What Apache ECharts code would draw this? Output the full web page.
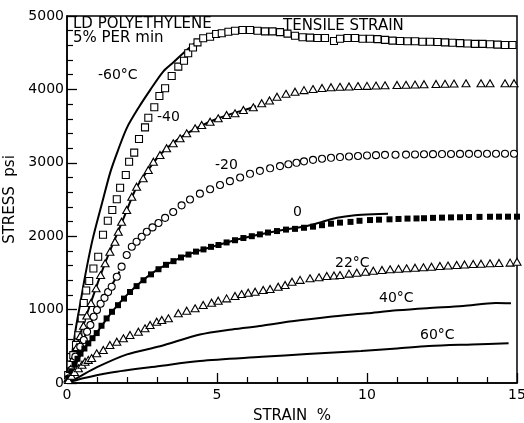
<!DOCTYPE html>
<html>
<head>
<meta charset="utf-8">
<script src="https://cdn.jsdelivr.net/npm/echarts@6/dist/echarts.min.js"></script>
<style>
  html, body { margin: 0; padding: 0; background: #fff; }
  #chart { width: 524px; height: 423px; }
</style>
</head>
<body>
<div id="chart"></div>
<script>
// Stress (psi) against strain (%) for LD polyethylene at several temperatures.
const xTicks = [0, 5, 10, 15];
const yTicks = [0, 1000, 2000, 3000, 4000, 5000];

// -60 °C: solid curve and open squares
const m60Line = [[0,0],[0.1,230],[0.2,480],[0.3,760],[0.45,1100],[0.6,1450],[0.85,1950],[1.2,2500],[1.45,2880],[1.7,3170],[2.0,3480],[2.4,3760],[2.77,3990],[3.2,4240],[3.55,4370],[4.0,4540],[4.45,4690],[4.9,4770],[5.3,4800]];
const m60Pts = [[0.04,110],[0.12,250],[0.21,380],[0.3,520],[0.38,650],[0.49,880],[0.56,1090],[0.64,1260],[0.74,1390],[0.88,1560],[1.04,1720],[1.2,2020],[1.36,2211],[1.51,2357],[1.66,2503],[1.77,2661],[1.96,2834],[2.07,3015],[2.24,3138],[2.4,3324],[2.6,3483],[2.71,3614],[2.91,3756],[3.08,3910],[3.27,4015],[3.49,4183],[3.71,4310],[3.9,4391],[4.04,4492],[4.2,4570],[4.35,4640],[4.54,4696],[4.77,4718],[4.97,4755],[5.16,4764],[5.38,4786],[5.6,4800],[5.85,4810],[6.1,4810],[6.35,4800],[6.6,4790],[6.85,4790],[7.1,4780],[7.35,4760],[7.6,4730],[7.85,4710],[8.1,4705],[8.35,4700],[8.6,4700],[8.9,4660],[9.1,4690],[9.35,4700],[9.6,4700],[9.85,4690],[10.1,4690],[10.35,4685],[10.6,4675],[10.85,4665],[11.1,4660],[11.35,4655],[11.6,4655],[11.85,4650],[12.1,4650],[12.35,4645],[12.6,4640],[12.85,4635],[13.1,4630],[13.35,4625],[13.6,4620],[13.85,4620],[14.1,4615],[14.35,4610],[14.6,4605],[14.85,4605]];

// -40 °C: solid curve and open triangles
const m40Line = [[0,0],[0.2,320],[0.5,740],[0.8,1100],[1.1,1450],[1.4,1770],[1.7,2060],[2.0,2360],[2.3,2650],[2.7,2900],[3.1,3110],[3.5,3260],[4.0,3400],[4.5,3510],[5.0,3600],[5.5,3670],[6.0,3730],[6.3,3770]];
const m40Pts = [[0.03,60],[0.12,190],[0.22,340],[0.33,490],[0.44,640],[0.55,780],[0.66,920],[0.8,1090],[0.97,1290],[1.12,1470],[1.27,1631],[1.43,1789],[1.6,1925],[1.71,2061],[1.82,2197],[1.99,2357],[2.16,2538],[2.32,2675],[2.54,2789],[2.71,2902],[2.88,3015],[3.1,3106],[3.32,3198],[3.54,3266],[3.77,3334],[3.99,3402],[4.27,3470],[4.49,3515],[4.77,3560],[5.04,3606],[5.32,3651],[5.6,3674],[5.88,3719],[6.21,3756],[6.49,3811],[6.75,3850],[7.0,3900],[7.3,3940],[7.6,3969],[7.9,3990],[8.2,4005],[8.5,4020],[8.8,4029],[9.1,4035],[9.4,4040],[9.7,4045],[10.0,4048],[10.3,4052],[10.6,4056],[11.0,4060],[11.3,4063],[11.6,4066],[11.9,4070],[12.3,4074],[12.6,4076],[12.9,4080],[13.3,4083],[13.8,4083],[14.1,4083],[14.6,4083],[14.9,4085]];

// -20 °C: short solid start and open circles
const m20Line = [[0,0],[0.3,370],[0.6,640],[0.9,910],[1.2,1150],[1.5,1340],[1.75,1520]];
const m20Pts = [[0.05,60],[0.15,180],[0.28,359],[0.44,494],[0.56,586],[0.67,699],[0.78,790],[0.89,903],[1.0,995],[1.12,1080],[1.25,1160],[1.37,1240],[1.49,1312],[1.66,1448],[1.82,1585],[1.99,1744],[2.16,1857],[2.32,1925],[2.49,1993],[2.66,2061],[2.85,2120],[3.05,2180],[3.27,2250],[3.54,2330],[3.82,2420],[4.1,2500],[4.43,2580],[4.77,2640],[5.1,2698],[5.43,2750],[5.77,2800],[6.1,2850],[6.43,2890],[6.77,2925],[7.1,2955],[7.38,2980],[7.65,3000],[7.9,3020],[8.2,3040],[8.5,3055],[8.8,3068],[9.1,3078],[9.4,3086],[9.7,3093],[10.0,3100],[10.3,3104],[10.6,3108],[10.95,3110],[11.3,3112],[11.6,3114],[11.9,3116],[12.2,3118],[12.5,3119],[12.8,3120],[13.1,3121],[13.4,3122],[13.7,3122],[14.0,3123],[14.3,3123],[14.6,3124],[14.9,3124]];

// 0 °C: solid curve and filled squares
const zeroLine = [[0,0],[0.5,420],[1.0,690],[1.5,970],[2.0,1200],[2.5,1390],[3.0,1540],[3.5,1650],[4.0,1745],[4.5,1815],[5.0,1875],[5.5,1935],[6.0,1985],[6.5,2030],[7.0,2070],[7.5,2105],[8.0,2140],[8.5,2195],[9.0,2250],[9.6,2285],[10.2,2300],[10.7,2305]];
const zeroPts = [[0.05,60],[0.15,160],[0.25,250],[0.35,330],[0.45,400],[0.58,470],[0.71,540],[0.85,610],[0.99,680],[1.15,780],[1.32,880],[1.5,970],[1.7,1060],[1.9,1150],[2.1,1240],[2.32,1320],[2.55,1400],[2.8,1480],[3.05,1550],[3.3,1610],[3.55,1660],[3.8,1710],[4.05,1750],[4.3,1790],[4.55,1820],[4.8,1855],[5.05,1880],[5.32,1915],[5.6,1945],[5.88,1975],[6.16,2000],[6.43,2025],[6.7,2050],[7.0,2070],[7.3,2090],[7.6,2100],[7.9,2115],[8.2,2130],[8.5,2150],[8.8,2170],[9.1,2185],[9.45,2195],[9.75,2210],[10.1,2220],[10.4,2225],[10.75,2230],[11.05,2235],[11.35,2240],[11.65,2242],[11.9,2245],[12.2,2250],[12.5,2253],[12.8,2256],[13.1,2258],[13.4,2261],[13.75,2263],[14.1,2265],[14.4,2266],[14.7,2266],[15.0,2266]];

// 22 °C: open triangles
const p22Pts = [[0.05,40],[0.15,100],[0.25,150],[0.38,200],[0.5,250],[0.6,290],[0.71,315],[0.82,340],[0.99,404],[1.21,450],[1.43,518],[1.66,563],[1.88,609],[2.1,654],[2.38,699],[2.6,745],[2.77,790],[2.99,835],[3.16,858],[3.38,881],[3.71,950],[3.99,985],[4.27,1018],[4.54,1063],[4.82,1094],[5.04,1121],[5.32,1153],[5.6,1185],[5.82,1212],[6.04,1230],[6.27,1244],[6.54,1267],[6.77,1281],[7.04,1312],[7.27,1335],[7.5,1380],[7.77,1405],[8.1,1426],[8.4,1440],[8.66,1458],[8.9,1465],[9.1,1471],[9.4,1490],[9.66,1503],[9.95,1515],[10.21,1530],[10.5,1540],[10.77,1549],[11.05,1556],[11.32,1563],[11.6,1570],[11.88,1576],[12.15,1585],[12.43,1594],[12.7,1600],[12.99,1608],[13.25,1615],[13.54,1621],[13.8,1626],[14.1,1631],[14.4,1636],[14.77,1640],[15.0,1653]];

// 40 °C and 60 °C: solid curves only
const p40Line = [[0,0],[0.3,60],[1.0,215],[2.0,390],[3.1,500],[4.43,660],[5.5,730],[6.5,780],[7.5,840],[8.7,900],[10.0,950],[11.0,990],[12.0,1020],[13.2,1050],[14.3,1090],[14.8,1085]];
const p60Line = [[0,0],[0.5,60],[1.43,140],[3.1,232],[4.43,300],[6.5,356],[8.0,395],[9.8,436],[11.0,470],[12.06,504],[13.5,525],[14.72,541]];

const FONT = 'DejaVu Sans';
const INK = '#000';

function curve(data) {
  return {
    type: 'line', data: data, showSymbol: false, smooth: 0.3,
    lineStyle: { color: INK, width: 2 }, z: 2, silent: true
  };
}
function marks(data, symbol, size, filled) {
  return {
    type: 'scatter', data: data, symbol: symbol, symbolSize: size,
    itemStyle: { color: filled ? INK : '#fff', borderColor: INK, borderWidth: filled ? 0 : 1.1, opacity: 1 },
    z: 3, silent: true
  };
}
function note(text, left, top, size) {
  return { type: 'text', left: left, top: top, z: 10,
    style: { text: text, font: (size || 14) + 'px "' + FONT + '"', fill: INK } };
}

const chart = echarts.init(document.getElementById('chart'), null, { renderer: 'canvas' });
chart.setOption({
  animation: false,
  backgroundColor: '#fff',
  grid: { left: 67, right: 7, top: 16, bottom: 40, containLabel: false, outerBoundsMode: 'none',
    show: true, borderColor: INK, borderWidth: 1.5, backgroundColor: 'transparent' },
  xAxis: {
    type: 'value', min: 0, max: 15, interval: 5,
    axisLine: { show: true, lineStyle: { color: INK, width: 1.5 } },
    axisTick: { show: true, inside: true, length: 10, lineStyle: { color: INK, width: 1.3 } },
    minorTick: { show: true, splitNumber: 5, length: 6, lineStyle: { color: INK, width: 1.2 } },
    splitLine: { show: false },
    axisLabel: { color: INK, fontFamily: FONT, fontSize: 14, margin: 5,
      formatter: v => xTicks.includes(v) ? String(v) : '' },
    name: 'STRAIN  %', nameLocation: 'middle', nameGap: 26,
    nameTextStyle: { color: INK, fontFamily: FONT, fontSize: 15 }
  },
  yAxis: {
    type: 'value', min: 0, max: 5000, interval: 1000,
    axisLine: { show: true, lineStyle: { color: INK, width: 1.5 } },
    axisTick: { show: true, inside: true, length: 10, lineStyle: { color: INK, width: 1.3 } },
    minorTick: { show: true, splitNumber: 5, length: 6, lineStyle: { color: INK, width: 1.2 } },
    splitLine: { show: false },
    axisLabel: { color: INK, fontFamily: FONT, fontSize: 14, margin: 3,
      formatter: v => yTicks.includes(v) ? String(v) : '' },
    name: 'STRESS  psi', nameLocation: 'middle', nameGap: 46,
    nameTextStyle: { color: INK, fontFamily: FONT, fontSize: 15 }
  },
  graphic: [
    note('LD POLYETHYLENE', 73, 17, 15),
    note('5% PER min', 73, 31, 15),
    note('TENSILE STRAIN', 283, 19, 15),
    note('-60°C', 98, 68, 14),
    note('-40', 157, 110, 14),
    note('-20', 215, 158, 14),
    note('0', 293, 205, 14),
    note('22°C', 335, 256, 14),
    note('40°C', 379, 291, 14),
    note('60°C', 420, 328, 14)
  ],
  series: [
    curve(m60Line), curve(m40Line), curve(m20Line), curve(zeroLine), curve(p40Line), curve(p60Line),
    marks(m60Pts, 'rect', 7, false),
    marks(m40Pts, 'triangle', [8, 7], false),
    marks(m20Pts, 'circle', 7, false),
    marks(zeroPts, 'rect', 6, true),
    marks(p22Pts, 'triangle', [8, 7], false)
  ]
});
</script>
</body>
</html>
